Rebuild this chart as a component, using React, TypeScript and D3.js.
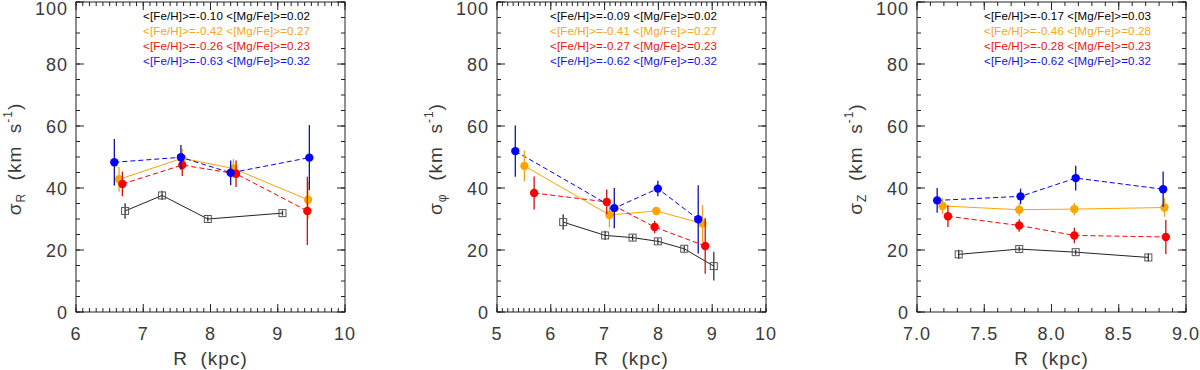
import React from "react";
import * as d3 from "d3";

// ---------- data ----------
type Pt = [number, number, number]; // R, sigma, err

const panelTitles = ["R", "φ", "Z"];
const xDomains: [number, number][] = [[6, 10], [5, 10], [7, 9]];
const xTickSets = [
  [6, 7, 8, 9, 10],
  [5, 6, 7, 8, 9, 10],
  [7.0, 7.5, 8.0, 8.5, 9.0],
];
const xTickFormats = ["d", "d", ".1f"];
const yTicks = [0, 20, 40, 60, 80, 100];

const seriesColors = ["#000000", "#FFA500", "#FF0000", "#0000FF"];
const legendColors = ["#000000", "#F5A623", "#EE1111", "#1111EE"];
const errColors = ["#333333", "#F0A020", "#D01010", "#1010B0"];
const seriesDash = [null, null, "5,3", "5,3"];

const legend1 = [
  "<[Fe/H]>=-0.10 <[Mg/Fe]>=0.02",
  "<[Fe/H]>=-0.42 <[Mg/Fe]>=0.27",
  "<[Fe/H]>=-0.26 <[Mg/Fe]>=0.23",
  "<[Fe/H]>=-0.63 <[Mg/Fe]>=0.32",
];
const legend2 = [
  "<[Fe/H]>=-0.09 <[Mg/Fe]>=0.02",
  "<[Fe/H]>=-0.41 <[Mg/Fe]>=0.27",
  "<[Fe/H]>=-0.27 <[Mg/Fe]>=0.23",
  "<[Fe/H]>=-0.62 <[Mg/Fe]>=0.32",
];
const legend3 = [
  "<[Fe/H]>=-0.17 <[Mg/Fe]>=0.03",
  "<[Fe/H]>=-0.46 <[Mg/Fe]>=0.28",
  "<[Fe/H]>=-0.28 <[Mg/Fe]>=0.23",
  "<[Fe/H]>=-0.62 <[Mg/Fe]>=0.32",
];

// panel 1: sigma_R
const r_black: Pt[] = [[6.73, 32.6, 2.5], [7.28, 37.6, 1.5], [7.96, 30.0, 0.8], [9.07, 31.9, 0.8]];
const r_orange: Pt[] = [[6.64, 42.8, 4.0], [7.58, 49.6, 3.0], [8.34, 46.3, 3.0], [9.45, 36.2, 6.0]];
const r_red: Pt[] = [[6.69, 41.3, 4.0], [7.58, 47.4, 3.5], [8.38, 44.6, 4.3], [9.44, 32.6, 11.0]];
const r_blue: Pt[] = [[6.57, 48.3, 7.5], [7.56, 49.9, 4.0], [8.30, 44.9, 4.0], [9.47, 49.8, 10.5]];

// panel 2: sigma_phi
const p_black: Pt[] = [[6.23, 29.0, 2.5], [7.01, 24.7, 1.5], [7.52, 24.0, 1.0], [7.99, 22.8, 1.0], [8.48, 20.4, 1.0], [9.03, 14.8, 4.6]];
const p_orange: Pt[] = [[5.51, 47.1, 5.0], [7.09, 31.3, 4.0], [7.96, 32.6, 1.0], [8.82, 28.5, 6.0]];
const p_red: Pt[] = [[5.69, 38.4, 5.3], [7.04, 35.5, 4.0], [7.93, 27.4, 2.0], [8.87, 21.3, 9.0]];
const p_blue: Pt[] = [[5.34, 51.9, 8.3], [7.18, 33.5, 6.5], [7.99, 39.8, 2.5], [8.74, 29.9, 11.0]];

// panel 3: sigma_z
const z_black: Pt[] = [[7.31, 18.6, 1.5], [7.76, 20.3, 0.8], [8.18, 19.3, 0.8], [8.72, 17.6, 1.3]];
const z_orange: Pt[] = [[7.19, 34.2, 2.5], [7.76, 33.0, 2.0], [8.17, 33.2, 2.0], [8.84, 33.7, 3.0]];
const z_red: Pt[] = [[7.23, 30.9, 3.5], [7.76, 27.9, 2.0], [8.17, 24.7, 2.5], [8.85, 24.2, 5.5]];
const z_blue: Pt[] = [[7.15, 36.0, 4.0], [7.77, 37.3, 2.5], [8.18, 43.2, 4.0], [8.83, 39.6, 5.7]];

const panelSeries = [
  [r_black, r_orange, r_red, r_blue],
  [p_black, p_orange, p_red, p_blue],
  [z_black, z_orange, z_red, z_blue],
];
const legends = [legend1, legend2, legend3];

// ---------- layout ----------
const panelLeft = [76, 497, 917];
const plotW = 269;
const plotTop = 2;
const plotBottom = 312;
const legendX = [143, 550, 984];
const legendW = 167;
const axisColor = "#222";
const textColor = "#3a3a3a";
const font = "'Liberation Sans', Arial, sans-serif";
const legendFont = "'Liberation Sans', Arial, sans-serif";

function Panel({ idx }: { idx: number }) {
  const x0 = panelLeft[idx];
  const x = d3.scaleLinear().domain(xDomains[idx]).range([x0, x0 + plotW]);
  const y = d3.scaleLinear().domain([0, 100]).range([plotBottom, plotTop]);
  const [d0, d1] = xDomains[idx];
  const minorX = d3.range(Math.round(d0 * 10), Math.round(d1 * 10) + 1).map((v) => v / 10);
  const minorY = d3.range(0, 101, 5);
  const fmt = d3.format(xTickFormats[idx]);
  const majorLen = 8;
  const minorLen = 4;
  const line = d3
    .line<Pt>()
    .x((d) => x(d[0]))
    .y((d) => y(d[1]));

  return (
    <g>
      <rect
        x={x0}
        y={plotTop}
        width={plotW}
        height={plotBottom - plotTop}
        fill="none"
        stroke={axisColor}
        strokeWidth={1}
      />
      {minorX.map((v, i) => (
        <g key={"mx" + i}>
          <line x1={x(v)} x2={x(v)} y1={plotBottom} y2={plotBottom - minorLen} stroke={axisColor} />
          <line x1={x(v)} x2={x(v)} y1={plotTop} y2={plotTop + minorLen} stroke={axisColor} />
        </g>
      ))}
      {xTickSets[idx].map((v, i) => (
        <g key={"Mx" + i}>
          <line x1={x(v)} x2={x(v)} y1={plotBottom} y2={plotBottom - majorLen} stroke={axisColor} />
          <line x1={x(v)} x2={x(v)} y1={plotTop} y2={plotTop + majorLen} stroke={axisColor} />
          <text
            x={x(v)}
            y={340}
            textAnchor="middle"
            fontFamily={font}
            fontSize={18}
            letterSpacing={1}
            fill={textColor}
          >
            {fmt(v)}
          </text>
        </g>
      ))}
      {minorY.map((v, i) => (
        <g key={"my" + i}>
          <line x1={x0} x2={x0 + minorLen} y1={y(v)} y2={y(v)} stroke={axisColor} />
          <line x1={x0 + plotW} x2={x0 + plotW - minorLen} y1={y(v)} y2={y(v)} stroke={axisColor} />
        </g>
      ))}
      {yTicks.map((v, i) => (
        <g key={"My" + i}>
          <line x1={x0} x2={x0 + majorLen} y1={y(v)} y2={y(v)} stroke={axisColor} />
          <line x1={x0 + plotW} x2={x0 + plotW - majorLen} y1={y(v)} y2={y(v)} stroke={axisColor} />
          <text
            x={x0 - 8}
            y={Math.max(y(v) + 6.5, 15)}
            textAnchor="end"
            fontFamily={font}
            fontSize={18}
            letterSpacing={1}
            fill={textColor}
          >
            {v}
          </text>
        </g>
      ))}
      <text
        x={x0 + plotW / 2}
        y={365}
        textAnchor="middle"
        fontFamily={font}
        fontSize={19}
        letterSpacing={1}
        fill={textColor}
        style={{ whiteSpace: "pre" }}
      >
        {"R  (kpc)"}
      </text>
      <text
        transform={`translate(${x0 - 55},${(plotTop + plotBottom) / 2 + 2}) rotate(-90)`}
        textAnchor="middle"
        fontFamily={font}
        fontSize={19}
        letterSpacing={1}
        fill={textColor}
        style={{ whiteSpace: "pre" }}
      >
        <tspan>σ</tspan>
        <tspan fontSize={12} dy={4}>{panelTitles[idx]}</tspan>
        <tspan dy={-4}>{"  (km  s"}</tspan>
        <tspan fontSize={12} dy={-9}>{"-1"}</tspan>
        <tspan dy={9}>{")"}</tspan>
      </text>
      {legends[idx].map((t, i) => (
        <text
          key={"lg" + i}
          x={legendX[idx]}
          y={19.5 + i * 15.3}
          fontFamily={legendFont}
          fontSize={11.5}
          textLength={legendW}
          lengthAdjust="spacing"
          fill={legendColors[i]}
        >
          {t}
        </text>
      ))}
      {panelSeries[idx].map((s, si) => (
        <path
          key={"ln" + si}
          d={line(s) || ""}
          fill="none"
          stroke={si === 0 ? "#222" : seriesColors[si]}
          strokeWidth={1}
          strokeDasharray={seriesDash[si] || undefined}
        />
      ))}
      {panelSeries[idx].map((s, si) => (
        <g key={"pt" + si}>
          {s.map((d, di) => (
            <g key={di}>
              <line
                x1={x(d[0])}
                x2={x(d[0])}
                y1={y(d[1] - d[2])}
                y2={y(d[1] + d[2])}
                stroke={errColors[si]}
                strokeWidth={1.3}
              />
              {si === 0 ? (
                <rect
                  x={x(d[0]) - 3.5}
                  y={y(d[1]) - 3.5}
                  width={7}
                  height={7}
                  fill="none"
                  stroke="#555"
                  strokeWidth={1}
                />
              ) : (
                <circle cx={x(d[0])} cy={y(d[1])} r={4.2} fill={seriesColors[si]} />
              )}
            </g>
          ))}
        </g>
      ))}
    </g>
  );
}

export default function App() {
  return (
    <svg
      width={1200}
      height={370}
      style={{ position: "absolute", left: 0, top: 0, background: "#fff" }}
    >
      <rect x={0} y={0} width={1200} height={370} fill="#fff" />
      {[0, 1, 2].map((i) => (
        <Panel key={i} idx={i} />
      ))}
    </svg>
  );
}
